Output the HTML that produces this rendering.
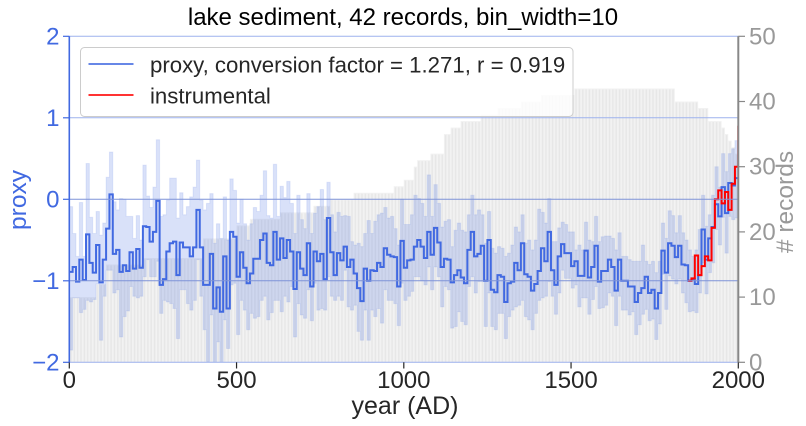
<!DOCTYPE html>
<html>
<head>
<meta charset="utf-8">
<style>
html,body{margin:0;padding:0;background:#fff;width:806px;height:426px;overflow:hidden}
svg{display:block}
text{font-family:"Liberation Sans",Arial,sans-serif}
</style>
</head>
<body>
<svg id="chart" width="806" height="426" viewBox="0 0 806 426" xmlns="http://www.w3.org/2000/svg">
<defs><clipPath id="plot-clip"><rect x="69.3" y="36.3" width="669" height="326"/></clipPath></defs>
<g id="bars"></g>
<g id="series" clip-path="url(#plot-clip)"></g>
<g id="axes"></g>
<g>
<rect x="80.5" y="47.5" width="492.5" height="69" rx="4" fill="#fff" fill-opacity="0.8" stroke="#ccc" stroke-width="1"/>
<line x1="88.5" x2="133.5" y1="64" y2="64" stroke="#4169e1" stroke-width="2" stroke-opacity="0.8"/>
<text x="150" y="72.5" font-size="22.2" fill="#262626">proxy, conversion factor = 1.271, r = 0.919</text>
<line x1="88.5" x2="133.5" y1="95" y2="95" stroke="#f00" stroke-width="2" stroke-opacity="0.8"/>
<text x="150" y="103.5" font-size="22.2" fill="#262626">instrumental</text>
</g>
<text x="403" y="25" text-anchor="middle" font-size="24" fill="#000">lake sediment, 42 records, bin_width=10</text>
<text x="405" y="414" text-anchor="middle" font-size="25" fill="#262626">year (AD)</text>
<text transform="translate(26,200) rotate(-90)" text-anchor="middle" font-size="24.5" fill="#4169e1">proxy</text>
<text transform="translate(793,202) rotate(-90)" text-anchor="middle" font-size="24.5" fill="#999">&#35; records</text>
</svg>
<script>
var binWidth = 10;
var xTicks = [0, 500, 1000, 1500, 2000];
var yTicks = [2, 1, 0, -1, -2];
var countTicks = [0, 10, 20, 30, 40, 50];
var proxy = [-.89,-.83,-1.01,-.74,-.99,-.43,-.78,-.90,-.56,-1.02,-.74,-.36,.06,-.67,-.62,-.89,-.81,-.88,-.65,-.85,
-.61,-.84,-.33,-.34,-.52,-.40,-.02,-1.05,-.98,-.64,-.54,-.52,-.93,-.53,-.59,-.59,-.70,-.59,-.13,-.59,
-1.05,-1.05,-.67,-1.34,-1.08,-1.38,-.70,-1.34,-.40,-.46,-.95,-.65,-.84,-1.03,-.91,-.73,-.73,-.50,-.42,-.78,
-.81,-.40,-.74,-.48,-.72,-.50,-.64,-1.10,-.65,-.85,-.93,-.54,-1.07,-.64,-.76,-.67,-.98,-.23,-.65,-.93,
-.66,-.75,-.58,-.83,-.74,-.91,-1.09,-1.25,-.85,-1.0,-.87,-.88,-.78,-.83,-.60,-.68,-.70,-.71,-1.07,-.51,
-.84,-.75,-.74,-.58,-.50,-.58,
-.72,-.40,-.68,-.35,-.53,-.83,-.73,-.74,-1.02,-.93,-.87,-.96,-1.03,-.62,-.40,-.70,-.67,-.57,-1.0,-.50,-1.11,-1.14,-.93,-.95,-1.26,-1.03,-1.01,-.78,-.87,-.54,-.92,-.95,-1.12,-1.04,-.88,
-.60,-.76,-.40,-.87,-1.05,-.70,-.55,-.66,-.66,-.82,-.76,-.94,-.94,-.63,-.96,-.83,-.57,-1.01,-.88,-.88,-.74,-.83,-1.12,-.74,-1.0,-1.0,-1.07,-1.07,-1.26,-1.15,
-1.09,-.95,-1.15,-1.11,-1.34,-1.15,-.63,-.90,-.54,-.57,-.71,-.57,-.80,-.81,-1.0,-.98,-1.04,-.93,-.37,-.74,-.48,-.34,-.06,-.21,.15,-.17,.20,.17,.26];
var proxyHigh = [-.09,-.42,-.70,-.04,-.70,.44,-.22,-.42,-.15,-.44,-.29,.27,.58,-.03,-.13,.01,0,-.21,-.21,-.48,
-.20,-.50,.42,.04,-.10,.15,.73,-.21,-.19,-.01,.26,.26,-.23,.08,-.19,-.09,.03,.15,.48,-.01,
-.13,-.05,.07,-.54,-.30,-.48,.03,-.50,.25,.11,-.29,0,-.30,-.50,-.30,-.10,-.15,.05,.35,-.20,
-.23,.43,-.21,.16,.02,.22,-.05,-.42,.05,-.25,-.36,.07,-.42,-.17,-.09,.12,-.25,.21,-.19,-.40,
-.16,-.21,-.20,-.21,-.52,-.56,-.54,-.58,-.42,-.26,-.42,-.27,-.19,-.17,-.10,-.23,-.21,-.36,-.56,0,
-.31,-.31,-.19,.05,.01,-.05,
-.21,.30,-.21,.18,-.05,-.34,-.27,-.25,-.58,-.38,-.29,-.38,-.40,-.19,.05,-.19,-.13,-.19,-.54,-.15,-.60,-.66,-.58,-.60,-.70,-.66,-.56,-.34,-.40,-.19,-.54,-.50,-.62,-.50,-.12,
-.16,-.29,.01,-.52,-.52,-.35,-.28,-.31,-.40,-.40,-.62,-.56,-.62,-.28,-.50,-.52,-.21,-.52,-.46,-.45,-.45,-.48,-.62,-.41,-.70,-.70,-.74,-.76,-.76,-.76,
-.56,-.76,-.80,-.76,-.90,-.76,-.29,-.48,-.14,-.20,-.41,-.20,-.41,-.50,-.62,-.70,-.62,-.37,.05,-.33,-.19,.05,.40,.15,.56,.34,.56,.62,.72];
var proxyLow = [-1.85,-1.21,-1.21,-1.39,-1.35,-1.24,-1.26,-1.23,-1.04,-1.73,-1.19,-.87,-.87,-1.15,-1.11,-1.69,-1.44,-1.37,-1.07,-1.19,
-1.21,-1.19,-.95,-.74,-.95,-.95,-.76,-1.40,-1.24,-1.26,-1.28,-1.34,-1.71,-1.11,-1.11,-1.28,-1.36,-1.24,-.74,-1.19,
-1.60,-1.99,-1.42,-2.2,-1.75,-2.2,-1.48,-1.83,-1.05,-1.03,-1.66,-1.24,-1.36,-1.6,-1.40,-1.46,-1.44,-1.24,-1.19,-1.48,
-1.39,-1.24,-1.24,-1.38,-1.19,-1.26,-1.07,-1.69,-1.28,-1.42,-1.46,-1.11,-1.49,-1.03,-1.36,-1.34,-1.36,-.95,-1.19,-1.24,
-1.19,-1.24,-.87,-1.32,-1.36,-1.30,-1.62,-1.73,-1.36,-1.73,-1.36,-1.44,-1.34,-1.52,-1.11,-1.24,-1.24,-1.28,-1.55,-1.03,
-1.24,-1.19,-1.13,-.95,-.95,-1.0,
-1.05,-.83,-1.11,-.83,-.95,-1.32,-1.07,-1.11,-1.58,-1.56,-1.38,-1.50,-1.54,-1.07,-.95,-1.15,-1.01,-1.01,-1.56,-1.15,-1.56,-1.60,-1.40,-1.40,-1.71,-1.44,-1.36,-1.32,-1.30,-1.24,-1.44,-1.48,-1.60,-1.40,-1.24,
-1.21,-1.19,-1.01,-1.19,-1.41,-1.15,-.87,-.97,-.97,-1.09,-1.05,-1.32,-1.21,-1.21,-1.41,-1.23,-1.07,-1.34,-1.33,-1.30,-1.15,-1.19,-1.55,-1.19,-1.36,-1.36,-1.42,-1.38,-1.66,-1.54,
-1.41,-1.35,-1.49,-1.47,-1.72,-1.53,-.92,-1.35,-.94,-.98,-1.04,-.98,-1.15,-1.27,-1.38,-1.37,-1.39,-1.15,-.78,-1.16,-.90,-.78,-.37,-.56,-.22,-.66,-.21,-.25,-.23];
var recordCounts = [10,10,10,10,10,10,10,10,12,12,12,15,15,15,15,15,15,15,15,15,
15,15,16,16,16,16,16,16,16,16,16,16,16,16,16,16,16,16,16,16,
19,19,19,19,19,19,19,19,19,19,21,21,21,21,22,22,22,22,22,22,
22,22,22,23,23,23,23,23,23,23,23,23,23,24,24,24,24,24,25,25,
25,25,25,25,25,26,26,26,26,26,26,26,26,26,26,26,26,27,27,27,
28,28,28,30,31,31,31,31,32,32,32,32,35,35,36,36,36,37,37,37,
37,37,37,38,38,38,38,38,39,39,39,39,39,39,39,40,40,40,40,40,
40,41,41,41,41,41,41,41,41,41,41,42,42,42,42,42,42,42,42,42,
42,42,42,42,42,42,42,42,42,42,42,42,42,42,42,42,42,42,42,42,
42,40,40,40,40,40,40,40,39,39,39,37,37,37,37,36,35,34,33,32];
var instrumentalStart = 1850;
var instrumental = [-1.0,-.97,-.69,-.93,-.82,-.70,-.75,-.35,0,.11,-.05,.09,-.13,.19,.40,.89];

var NS = 'http://www.w3.org/2000/svg';
function xPos(year){ return 69.3 + (year / 2000) * 669; }
function yPos(v){ return 199.3 - v * 81.5; }
function countPos(c){ return 362.3 - c * 6.52; }
function make(tag, attrs, parent){
  var el = document.createElementNS(NS, tag);
  for (var k in attrs) el.setAttribute(k, attrs[k]);
  parent.appendChild(el);
  return el;
}
function stepPath(values, startYear){
  var d = '';
  for (var i = 0; i < values.length; i++){
    var x0 = xPos(startYear + i * binWidth).toFixed(2);
    var x1 = xPos(startYear + (i + 1) * binWidth).toFixed(2);
    var y = yPos(values[i]).toFixed(2);
    d += (i === 0 ? 'M' : 'L') + x0 + ' ' + y + 'L' + x1 + ' ' + y;
  }
  return d;
}
function bandPath(high, low){
  var d = '';
  var i;
  for (i = 0; i < high.length; i++){
    d += (i === 0 ? 'M' : 'L') + xPos(i * binWidth).toFixed(2) + ' ' + yPos(high[i]).toFixed(2) +
         'L' + xPos((i + 1) * binWidth).toFixed(2) + ' ' + yPos(high[i]).toFixed(2);
  }
  for (i = low.length - 1; i >= 0; i--){
    d += 'L' + xPos((i + 1) * binWidth).toFixed(2) + ' ' + yPos(low[i]).toFixed(2) +
         'L' + xPos(i * binWidth).toFixed(2) + ' ' + yPos(low[i]).toFixed(2);
  }
  return d + 'Z';
}

var barsG = document.getElementById('bars');
recordCounts.forEach(function(c, i){
  var x = xPos(i * binWidth);
  var w = xPos((i + 1) * binWidth) - x;
  var bar = make('rect', {x: x + 0.5, y: countPos(c) + 0.5, width: Math.max(w - 1, 0.1), height: Math.max(362.3 - countPos(c) - 0.5, 0), fill: '#e7e7e7', stroke: '#f1f1f1', 'stroke-width': 1}, barsG);
  
  
});

var seriesG = document.getElementById('series');
var band = make('path', {d: bandPath(proxyHigh, proxyLow), fill: '#4169e1', 'fill-opacity': 0.2, stroke: '#4169e1', 'stroke-opacity': 0.12, 'stroke-width': 1}, seriesG);


var proxyLine = make('path', {d: stepPath(proxy, 0), fill: 'none', stroke: '#4169e1', 'stroke-width': 2}, seriesG);


var instLine = make('path', {d: stepPath(instrumental, instrumentalStart), fill: 'none', stroke: '#f00', 'stroke-width': 2}, seriesG);



var axesG = document.getElementById('axes');
yTicks.forEach(function(v){
  var y = yPos(v);
  var inner = v === 0 || v === -1;
  var grid = make('line', {x1: 69.3, x2: 738.3, y1: y, y2: y, stroke: inner ? '#7f93d8' : '#9db2ee', 'stroke-width': 1}, axesG);
  
  
  var tick = make('line', {x1: 63, x2: 69.3, y1: y, y2: y, stroke: '#4169e1', 'stroke-width': 1.2}, axesG);
  
  
  var label = make('text', {x: 59.5, y: y + 8, 'text-anchor': 'end', 'font-size': 24, fill: '#4169e1'}, axesG);
  
  
  label.textContent = v < 0 ? '\u2212' + Math.abs(v) : String(v);
});
countTicks.forEach(function(c){
  var y = countPos(c);
  var tick = make('line', {x1: 738.3, x2: 745, y1: y, y2: y, stroke: '#888', 'stroke-width': 1.2}, axesG);
  
  
  var label = make('text', {x: 749, y: y + 8, 'font-size': 24, fill: '#999'}, axesG);
  
  
  label.textContent = String(c);
});
xTicks.forEach(function(t){
  var x = xPos(t);
  var tick = make('line', {x1: x, x2: x, y1: 362.3, y2: 368.5, stroke: '#262626', 'stroke-width': 1.2}, axesG);
  
  
  var label = make('text', {x: x, y: 388, 'text-anchor': 'middle', 'font-size': 24, fill: '#262626'}, axesG);
  
  
  label.textContent = String(t);
});
var leftSpine = make('line', {x1: 69.3, x2: 69.3, y1: 36.3, y2: 362.3, stroke: '#4169e1', 'stroke-width': 1.6}, axesG);


var rightSpine = make('line', {x1: 738.3, x2: 738.3, y1: 36.3, y2: 362.3, stroke: '#888', 'stroke-width': 2}, axesG);


</script>
</body>
</html>
